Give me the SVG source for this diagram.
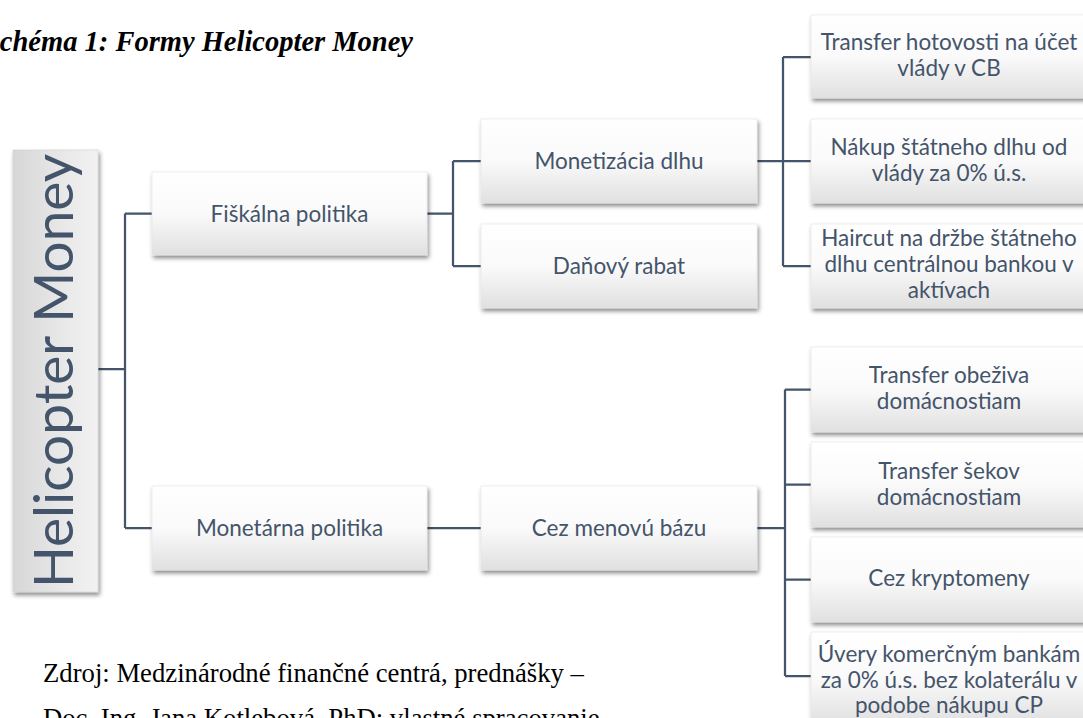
<svg xmlns="http://www.w3.org/2000/svg" width="1083" height="718" viewBox="0 0 1083 718">
<defs>
<linearGradient id="boxg" x1="0" y1="0" x2="0" y2="1">
<stop offset="0" stop-color="#ffffff"/>
<stop offset="0.5" stop-color="#fafafa"/>
<stop offset="1" stop-color="#e0e0e0"/>
</linearGradient>
<linearGradient id="rootg" x1="0" y1="0" x2="1" y2="0">
<stop offset="0" stop-color="#d6d6d6"/>
<stop offset="0.5" stop-color="#e6e6e6"/>
<stop offset="1" stop-color="#f2f2f2"/>
</linearGradient>
<filter id="sh" x="-10%" y="-20%" width="125%" height="150%">
<feDropShadow dx="1.5" dy="3" stdDeviation="2.2" flood-color="#000" flood-opacity="0.45"/>
</filter>
</defs>
<style>
.box{fill:url(#boxg);stroke:#e4e4e4;stroke-width:0.6;filter:url(#sh)}
.root{fill:url(#rootg);stroke:#d0d0d0;stroke-width:0.6;filter:url(#sh)}
.t{font-family:Lato,"Open Sans",sans-serif;font-size:22.5px;fill:#44546A;text-anchor:middle}
.rt{font-family:Lato,"Open Sans",sans-serif;font-size:55px;fill:#44546A;text-anchor:middle}
.con{fill:none;stroke:#44546A;stroke-width:2.25}
.title{font-family:"Liberation Serif","Times New Roman",serif;font-size:28.5px;font-weight:bold;font-style:italic;fill:#000}
.src{font-family:"Liberation Serif","Times New Roman",serif;font-size:26.7px;fill:#000}
</style>
<rect width="1083" height="718" fill="#ffffff"/>
<text class="title" x="413" y="51" text-anchor="end">Schéma 1: Formy Helicopter Money</text>
<g id="connectors">
<path class="con" d="M98,369 H125 M125,213.5 V528 M125,213.5 H152 M125,528 H152"/>
<path class="con" d="M427,213.5 H453 M453,161 V266 M453,161 H481 M453,266 H481"/>
<path class="con" d="M757,161 H783 M783,57 V266 M783,57 H811 M783,161 H811 M783,266 H811"/>
<path class="con" d="M427,528 H481"/>
<path class="con" d="M757,528 H785 M785,389.5 V676 M785,389.5 H811 M785,484.5 H811 M785,579.5 H811 M785,676 H811"/>
</g>
<g id="root">
<rect class="root" x="13" y="150" width="85" height="442"/>
<text class="rt" transform="translate(73,371) rotate(-90)" x="0" y="0">Helicopter Money</text>
</g>
<g id="fiskalna">
<rect class="box" x="152" y="172" width="275" height="83"/>
<text class="t" x="289.5" y="221.5">Fiškálna politika</text>
</g>
<g id="monetarna">
<rect class="box" x="152" y="486" width="275" height="84"/>
<text class="t" x="289.5" y="535.5">Monetárna politika</text>
</g>
<g id="monetizacia">
<rect class="box" x="481" y="119" width="276" height="84"/>
<text class="t" x="619" y="168.5">Monetizácia dlhu</text>
</g>
<g id="danovy">
<rect class="box" x="481" y="224" width="276" height="84"/>
<text class="t" x="619" y="273.5">Daňový rabat</text>
</g>
<g id="cez">
<rect class="box" x="481" y="486" width="276" height="84"/>
<text class="t" x="619" y="535.5">Cez menovú bázu</text>
</g>
<g id="transfer-hotovosti">
<rect class="box" x="811" y="15" width="276" height="83"/>
<text class="t" x="949" y="50">Transfer hotovosti na účet</text>
<text class="t" x="949" y="76">vlády v CB</text>
</g>
<g id="nakup">
<rect class="box" x="811" y="119" width="276" height="84"/>
<text class="t" x="949" y="155">Nákup štátneho dlhu od</text>
<text class="t" x="949" y="181">vlády za 0% ú.s.</text>
</g>
<g id="haircut">
<rect class="box" x="811" y="224" width="276" height="84"/>
<text class="t" x="949" y="246">Haircut na držbe štátneho</text>
<text class="t" x="949" y="272">dlhu centrálnou bankou v</text>
<text class="t" x="949" y="298">aktívach</text>
</g>
<g id="transfer-obeziva">
<rect class="box" x="811" y="347" width="276" height="85"/>
<text class="t" x="949" y="383">Transfer obeživa</text>
<text class="t" x="949" y="409">domácnostiam</text>
</g>
<g id="transfer-sekov">
<rect class="box" x="811" y="442" width="276" height="85"/>
<text class="t" x="949" y="479">Transfer šekov</text>
<text class="t" x="949" y="505">domácnostiam</text>
</g>
<g id="kryptomeny">
<rect class="box" x="811" y="537" width="276" height="85"/>
<text class="t" x="949" y="586">Cez kryptomeny</text>
</g>
<g id="uvery">
<rect class="box" x="811" y="632" width="276" height="92"/>
<text class="t" x="949" y="662">Úvery komerčným bankám</text>
<text class="t" x="949" y="688">za 0% ú.s. bez kolaterálu v</text>
<text class="t" x="949" y="713">podobe nákupu CP</text>
</g>
<text class="src" x="43" y="682">Zdroj: Medzinárodné finančné centrá, prednášky –</text>
<text class="src" x="43" y="727">Doc. Ing. Jana Kotlebová, PhD; vlastné spracovanie</text>
</svg>
